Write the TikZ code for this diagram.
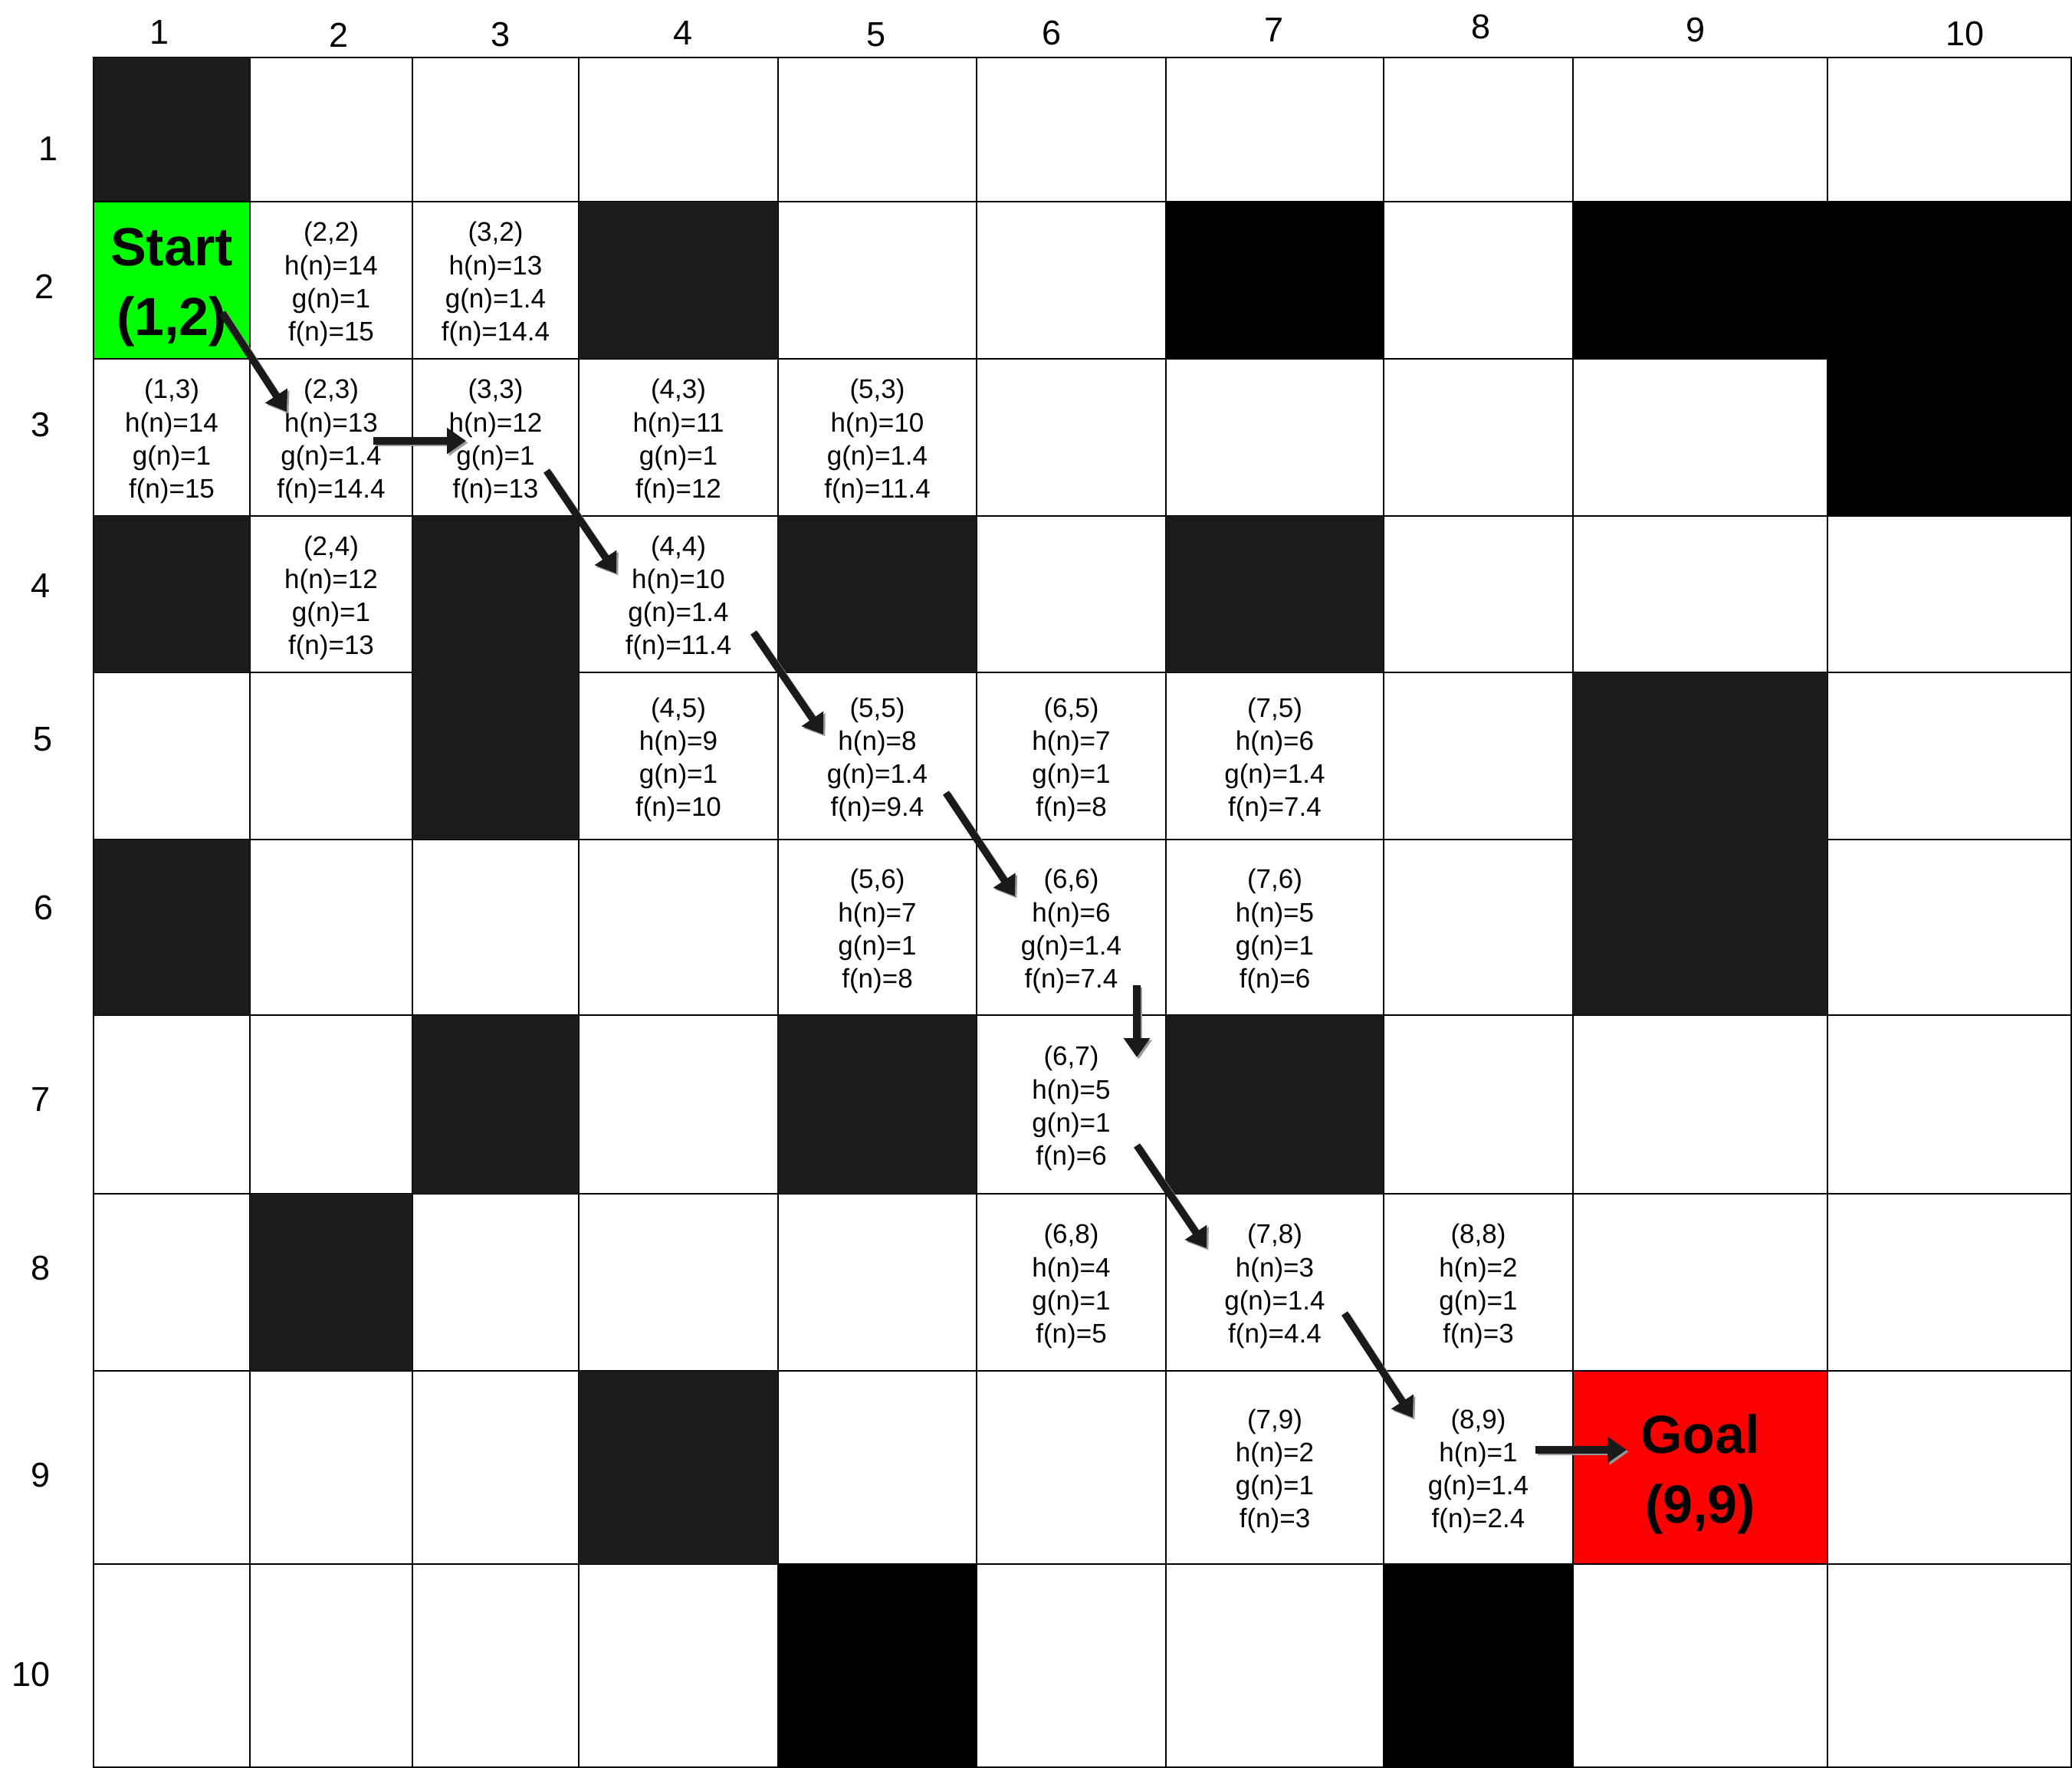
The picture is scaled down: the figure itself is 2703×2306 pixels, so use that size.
\documentclass[tikz,border=0pt]{standalone}
\usepackage{fontspec}
\setmainfont{Liberation Sans}
\usetikzlibrary{arrows.meta}
\definecolor{darkc}{HTML}{1B1B1B}
\definecolor{startg}{HTML}{00FF00}
\definecolor{goalr}{HTML}{FF0000}
\definecolor{arrowc}{HTML}{1A1A1A}
\newcommand\gridXS{{122,326,538,755,1015,1274,1521,1805,2052,2384,2702}}
\newcommand\gridYS{{75,263,468,673,877,1095,1324,1557,1788,2040,2305}}
\tikzset{
  cellbox/.style={rectangle, draw=black, line width=1.6pt, fill=white, inner sep=0pt, outer sep=0pt},
  info/.style={font=\fontsize{35}{43.1}\selectfont, align=center, inner sep=0pt, text=black, yshift=-5pt},
  bigtxt/.style={font=\fontsize{70}{91}\selectfont\bfseries, align=center, inner sep=0pt, text=black, yshift=-9pt},
  lbl/.style={font=\fontsize{45}{50}\selectfont, inner sep=0pt, text=black},
  pathar/.style={draw=arrowc, line width=9.5pt, -{Triangle[width=33pt,length=25pt]}},
  pathsh/.style={draw=black!40, line width=9.5pt, -{Triangle[width=33pt,length=25pt]},
                 transform canvas={shift={(2.5pt,-2.5pt)}}}
}
\begin{document}
\begin{tikzpicture}[x=1pt,y=-1pt]
\useasboundingbox (0,0) rectangle (2703,2306);
\fill[white] (0,0) rectangle (2703,2306);

% grid cells
\foreach \c in {1,...,10}{
  \foreach \r in {1,...,10}{
    \pgfmathsetmacro\xa{\gridXS[\c-1]}
    \pgfmathsetmacro\xb{\gridXS[\c]}
    \pgfmathsetmacro\ya{\gridYS[\r-1]}
    \pgfmathsetmacro\yb{\gridYS[\r]}
    \pgfmathsetmacro\cw{\xb-\xa}
    \pgfmathsetmacro\ch{\yb-\ya}
    \pgfmathsetmacro\cx{(\xa+\xb)/2}
    \pgfmathsetmacro\cy{(\ya+\yb)/2}
    \node[cellbox, minimum width=\cw pt, minimum height=\ch pt] (c\c-\r) at (\cx,\cy) {};
  }
}

% obstacles
\foreach \p in {1-1,4-2,1-4,3-4,5-4,7-4,3-5,9-5,1-6,9-6,3-7,5-7,7-7,2-8,4-9}{
  \fill[darkc] (c\p.north west) rectangle (c\p.south east);
}
\foreach \p in {7-2,9-2,10-2,10-3,5-10,8-10}{
  \fill[black] (c\p.north west) rectangle (c\p.south east);
}

% start and goal
\filldraw[fill=startg, draw=black, line width=1.6pt] (c1-2.north west) rectangle (c1-2.south east);
\filldraw[fill=goalr, draw=black, line width=1.6pt] (c9-9.north west) rectangle (c9-9.south east);
\node[bigtxt] (start) at (c1-2) {Start\\(1,2)};
\node[bigtxt] (goal) at (c9-9) {Goal\\(9,9)};

% cell annotations
\node[info] (i2-2) at (c2-2) {(2,2)\\h(n)=14\\g(n)=1\\f(n)=15};
\node[info] (i3-2) at (c3-2) {(3,2)\\h(n)=13\\g(n)=1.4\\f(n)=14.4};
\node[info] (i1-3) at (c1-3) {(1,3)\\h(n)=14\\g(n)=1\\f(n)=15};
\node[info] (i2-3) at (c2-3) {(2,3)\\h(n)=13\\g(n)=1.4\\f(n)=14.4};
\node[info] (i3-3) at (c3-3) {(3,3)\\h(n)=12\\g(n)=1\\f(n)=13};
\node[info] (i4-3) at (c4-3) {(4,3)\\h(n)=11\\g(n)=1\\f(n)=12};
\node[info] (i5-3) at (c5-3) {(5,3)\\h(n)=10\\g(n)=1.4\\f(n)=11.4};
\node[info] (i2-4) at (c2-4) {(2,4)\\h(n)=12\\g(n)=1\\f(n)=13};
\node[info] (i4-4) at (c4-4) {(4,4)\\h(n)=10\\g(n)=1.4\\f(n)=11.4};
\node[info] (i4-5) at (c4-5) {(4,5)\\h(n)=9\\g(n)=1\\f(n)=10};
\node[info] (i5-5) at (c5-5) {(5,5)\\h(n)=8\\g(n)=1.4\\f(n)=9.4};
\node[info] (i6-5) at (c6-5) {(6,5)\\h(n)=7\\g(n)=1\\f(n)=8};
\node[info] (i7-5) at (c7-5) {(7,5)\\h(n)=6\\g(n)=1.4\\f(n)=7.4};
\node[info] (i5-6) at (c5-6) {(5,6)\\h(n)=7\\g(n)=1\\f(n)=8};
\node[info] (i6-6) at (c6-6) {(6,6)\\h(n)=6\\g(n)=1.4\\f(n)=7.4};
\node[info] (i7-6) at (c7-6) {(7,6)\\h(n)=5\\g(n)=1\\f(n)=6};
\node[info] (i6-7) at (c6-7) {(6,7)\\h(n)=5\\g(n)=1\\f(n)=6};
\node[info] (i6-8) at (c6-8) {(6,8)\\h(n)=4\\g(n)=1\\f(n)=5};
\node[info] (i7-8) at (c7-8) {(7,8)\\h(n)=3\\g(n)=1.4\\f(n)=4.4};
\node[info] (i8-8) at (c8-8) {(8,8)\\h(n)=2\\g(n)=1\\f(n)=3};
\node[info] (i7-9) at (c7-9) {(7,9)\\h(n)=2\\g(n)=1\\f(n)=3};
\node[info] (i8-9) at (c8-9) {(8,9)\\h(n)=1\\g(n)=1.4\\f(n)=2.4};

% axis labels
\node[lbl] (col1) at (208,42) {1};
\node[lbl] (col2) at (442,46) {2};
\node[lbl] (col3) at (653,45) {3};
\node[lbl] (col4) at (891,43) {4};
\node[lbl] (col5) at (1143,45) {5};
\node[lbl] (col6) at (1372,43) {6};
\node[lbl] (col7) at (1662,39) {7};
\node[lbl] (col8) at (1932,35) {8};
\node[lbl] (col9) at (2212,39) {9};
\node[lbl] (col10) at (2563,44) {10};
\node[lbl] (row1) at (63,194) {1};
\node[lbl] (row2) at (58,374) {2};
\node[lbl] (row3) at (53,554) {3};
\node[lbl] (row4) at (53,764) {4};
\node[lbl] (row5) at (56,964) {5};
\node[lbl] (row6) at (57,1184) {6};
\node[lbl] (row7) at (53,1434) {7};
\node[lbl] (row8) at (53,1654) {8};
\node[lbl] (row9) at (53,1924) {9};
\node[lbl] (row10) at (41,2184) {10};

% path arrows
\coordinate (a1s) at (290,408);   \coordinate (a1e) at (374,537);
\coordinate (a2s) at (487,575);   \coordinate (a2e) at (608,575);
\coordinate (a3s) at (713,614);   \coordinate (a3e) at (804,748);
\coordinate (a4s) at (983,825);   \coordinate (a4e) at (1074,958);
\coordinate (a5s) at (1234,1034); \coordinate (a5e) at (1324,1169);
\coordinate (a6s) at (1483,1285); \coordinate (a6e) at (1483,1379);
\coordinate (a7s) at (1483,1494); \coordinate (a7e) at (1574,1628);
\coordinate (a8s) at (1754,1713); \coordinate (a8e) at (1843,1849);
\coordinate (a9s) at (2003,1891); \coordinate (a9e) at (2122,1891);
\foreach \k in {1,...,9}{
  \draw[pathsh] (a\k s) -- (a\k e);
  \draw[pathar] (a\k s) -- (a\k e);
}
\end{tikzpicture}
\end{document}
